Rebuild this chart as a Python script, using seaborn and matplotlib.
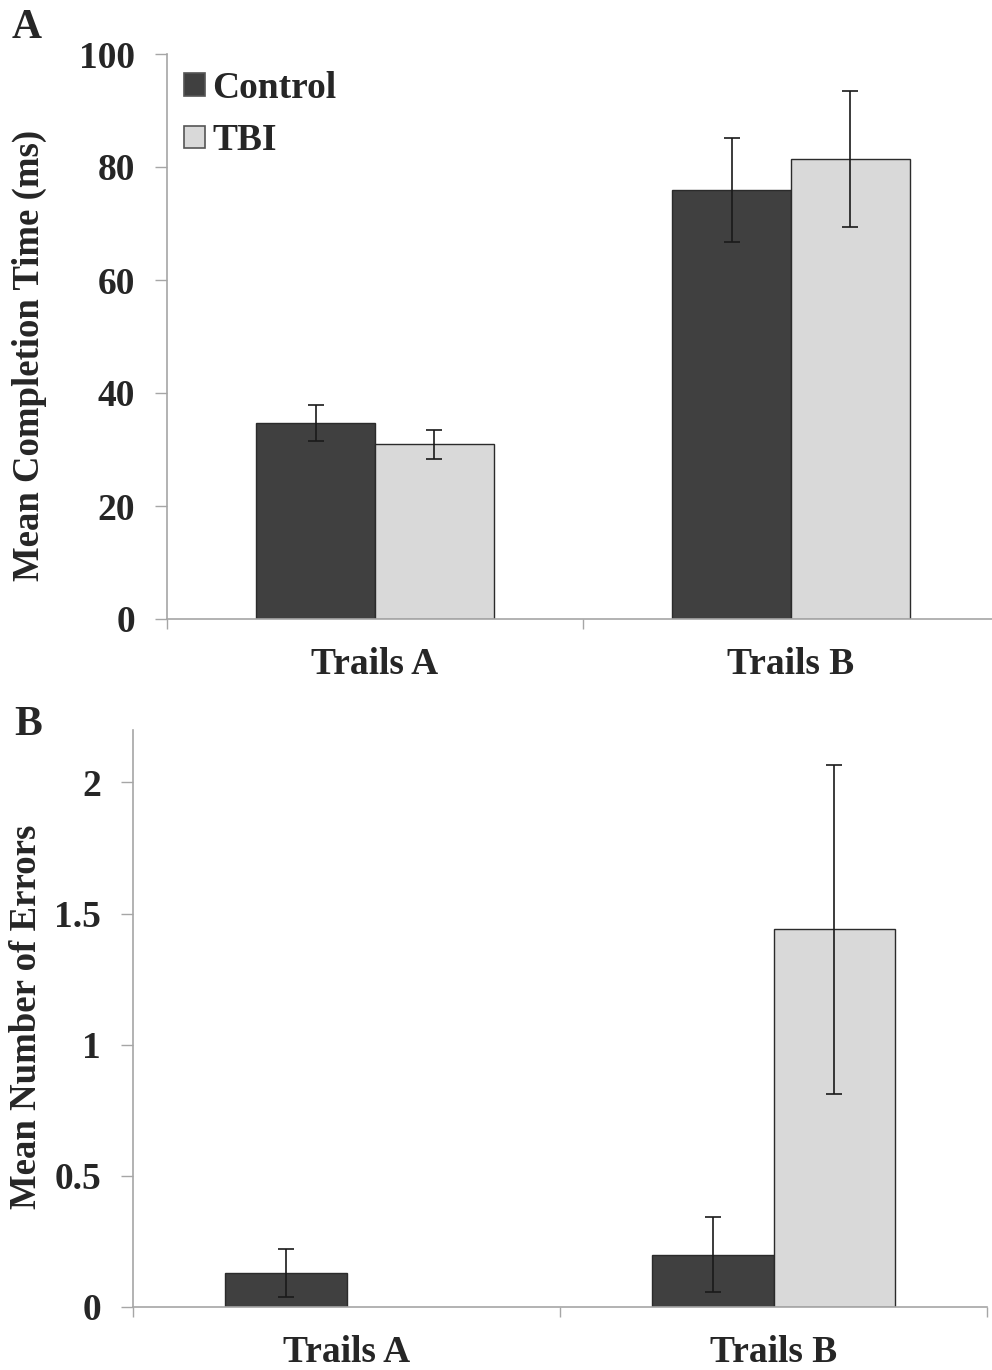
import matplotlib
matplotlib.use("Agg")
import matplotlib.pyplot as plt
from matplotlib.patches import Patch
import seaborn as sns
import pandas as pd
import numpy as np

# Trail Making Test results by group
tasks = ["Trails A", "Trails B"]
groups = ["Control", "TBI"]

time_control = [34.7, 75.9]
time_tbi = [30.9, 81.4]
time_err_control = [3.2, 9.2]
time_err_tbi = [2.6, 12.0]

errors_control = [0.13, 0.20]
errors_tbi = [0.0, 1.44]
errors_err_control = [0.093, 0.143]
errors_err_tbi = [0.0, 0.626]

time_ticks = [0, 20, 40, 60, 80, 100]
error_ticks = [0, 0.5, 1, 1.5, 2]
error_tick_labels = ["0", "0.5", "1", "1.5", "2"]

colors = {"Control": "#404040", "TBI": "#d9d9d9"}
spine_col = "#a6a6a6"
FS = 27

sns.set_theme(style="white")
plt.rcParams["font.family"] = ["Liberation Serif", "DejaVu Serif"]
plt.rcParams["font.weight"] = "bold"

fig = plt.figure(figsize=(9.92, 13.70), dpi=100)
W, H = 992, 1370


def make_frame(ctrl, tbi):
    return pd.DataFrame({
        "task": tasks * 2,
        "group": ["Control"] * 2 + ["TBI"] * 2,
        "value": list(ctrl) + list(tbi),
    })


def draw_panel(ax, ctrl, tbi, err_c, err_t, bar_width):
    df = make_frame(ctrl, tbi)
    sns.barplot(data=df, x="task", y="value", hue="group", order=tasks,
                hue_order=groups, palette=colors, width=bar_width,
                errorbar=None, edgecolor="#2b2b2b", linewidth=1.0,
                legend=False, ax=ax)
    # error bars placed on the bar centres
    errs = {"Control": err_c, "TBI": err_t}
    vals = {"Control": ctrl, "TBI": tbi}
    for gi, g in enumerate(groups):
        off = (gi - 0.5) * bar_width / 2
        for ti in range(len(tasks)):
            if vals[g][ti] == 0:
                continue
            ax.errorbar(ti + off, vals[g][ti], yerr=errs[g][ti], fmt="none",
                        ecolor="#1a1a1a", elinewidth=1.2, capsize=6,
                        capthick=1.2, zorder=5)
    for p in ax.patches:
        if p.get_height() == 0:
            p.set_linewidth(0)
    ax.set_xlim(-0.5, 1.5)
    ax.set_xticks([0, 1])
    ax.set_xticklabels(tasks, fontsize=FS, fontweight="bold")
    ax.set_xticks([-0.5, 0.5, 1.5], minor=True)
    ax.tick_params(axis="x", which="major", length=0, pad=20)
    ax.tick_params(axis="x", which="minor", length=7, width=1,
                   color=spine_col, direction="out", bottom=True)
    ax.tick_params(axis="y", length=9, width=1, color=spine_col,
                   direction="out", left=True, pad=14, labelsize=FS)
    for lab in ax.get_yticklabels():
        lab.set_fontweight("bold")
    sns.despine(ax=ax)
    for s in ["left", "bottom"]:
        ax.spines[s].set_color(spine_col)
        ax.spines[s].set_linewidth(1.2)
    ax.set_xlabel("")


# Panel A: completion time
axA = fig.add_axes([167 / W, 1 - 619 / H, (999 - 167) / W, (619 - 54) / H])
draw_panel(axA, time_control, time_tbi, time_err_control, time_err_tbi, 0.57)
axA.set_ylim(0, 100)
axA.set_yticks(time_ticks)
axA.set_yticklabels([str(t) for t in time_ticks], fontsize=FS, fontweight="bold")
axA.set_ylabel("Mean Completion Time (ms)", fontsize=26.5, fontweight="bold",
               va="center")
axA.yaxis.set_label_coords((29 - 167) / 832, (619 - 355) / 565)
handles = [Patch(facecolor=colors[g], edgecolor="#555555", linewidth=1.2,
                 label=g) for g in groups]
axA.legend(handles=handles, loc="upper left", bbox_to_anchor=(-0.02, 1.03),
           frameon=False, handlelength=0.55, handleheight=0.55,
           handletextpad=0.2, labelspacing=0.47,
           prop={"weight": "bold", "size": FS})

# Panel B: number of errors
axB = fig.add_axes([133 / W, 1 - 1307 / H, (987 - 133) / W, (1307 - 730) / H])
draw_panel(axB, errors_control, errors_tbi, errors_err_control, errors_err_tbi,
           0.567)
axB.set_ylim(0, 2.2)
axB.set_yticks(error_ticks)
axB.set_yticklabels(error_tick_labels, fontsize=FS, fontweight="bold")
axB.set_ylabel("Mean Number of Errors", fontsize=26.5, fontweight="bold",
               va="center")
axB.yaxis.set_label_coords((27 - 133) / 854, (1307 - 1017) / 577)

fig.text(12 / W, 1 - 28 / H, "A", fontsize=30, fontweight="bold",
         va="center", ha="left")
fig.text(14 / W, 1 - 725 / H, "B", fontsize=30, fontweight="bold",
         va="center", ha="left")

fig.savefig("out.png", dpi=100)
